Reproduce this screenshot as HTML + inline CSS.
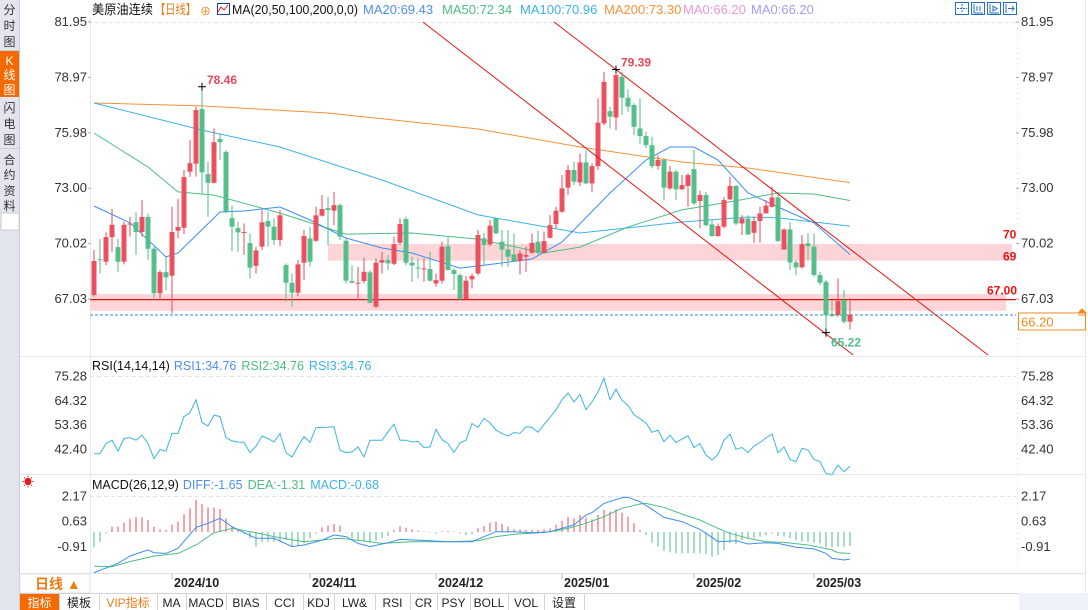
<!DOCTYPE html>
<html><head><meta charset="utf-8">
<style>
html,body{margin:0;padding:0;background:#fff;overflow:hidden}
body{width:1088px;height:610px;position:relative;font-family:"Liberation Sans","Noto Sans CJK SC",sans-serif}
svg{position:absolute;left:0;top:0}
text{font-family:"Liberation Sans","Noto Sans CJK SC",sans-serif}
</style></head>
<body>
<svg id="chart" width="1088" height="610" viewBox="0 0 1088 610" xmlns="http://www.w3.org/2000/svg">
  <g>
    <rect x="0" y="0" width="19" height="610" fill="#e3e5ee"/>
    <line x1="19.5" y1="0" x2="19.5" y2="610" stroke="#c9ccd6"/>
    <g><text font-size="12" fill="#333" text-anchor="middle"><tspan x="9.5" y="14">分</tspan><tspan x="9.5" y="30">时</tspan><tspan x="9.5" y="46">图</tspan></text></g>
    <line x1="0" y1="50.5" x2="19" y2="50.5" stroke="#c9ccd6"/>
    <g><rect x="0" y="51" width="19" height="46" fill="#f56a00"/><text font-size="12" fill="#fff" text-anchor="middle"><tspan x="9.5" y="65">K</tspan><tspan x="9.5" y="79">线</tspan><tspan x="9.5" y="94">图</tspan></text></g>
    <g><text font-size="12" fill="#333" text-anchor="middle"><tspan x="9.5" y="112">闪</tspan><tspan x="9.5" y="128">电</tspan><tspan x="9.5" y="144">图</tspan></text></g>
    <line x1="0" y1="148.5" x2="19" y2="148.5" stroke="#c9ccd6"/>
    <g><text font-size="12" fill="#333" text-anchor="middle"><tspan x="9.5" y="164">合</tspan><tspan x="9.5" y="179">约</tspan><tspan x="9.5" y="195">资</tspan><tspan x="9.5" y="210">料</tspan></text></g>
    <rect x="1" y="213" width="18" height="17" fill="#fff" stroke="#c9ccd6"/>
  </g>
  <line x1="90.5" y1="18" x2="90.5" y2="573" stroke="#e6e8ee"/>
  <line x1="1017.5" y1="18" x2="1017.5" y2="573" stroke="#dfe2e8" stroke-dasharray="1,4"/>
  <line x1="1085.5" y1="0" x2="1085.5" y2="593" stroke="#e3e6ec"/>
  <line x1="20" y1="356.5" x2="1085" y2="356.5" stroke="#e3e6ec"/>
  <line x1="20" y1="474.5" x2="1085" y2="474.5" stroke="#e3e6ec"/>
  <line x1="20" y1="573.5" x2="1085" y2="573.5" stroke="#dde0e6"/>
  <line x1="1016" y1="22.5" x2="90" y2="22.5" stroke="#e2e2e2" stroke-dasharray="4,3"/>
  <line x1="90" y1="376.5" x2="1016" y2="376.5" stroke="#e2e2e2" stroke-dasharray="4,3"/>
  <line x1="90" y1="496.5" x2="1016" y2="496.5" stroke="#e2e2e2" stroke-dasharray="4,3"/>

  <g font-size="13">
    <text x="92" y="14" fill="#111" textLength="61" lengthAdjust="spacingAndGlyphs">美原油连续</text>
    <text x="155" y="14" fill="#f07b16" textLength="41" lengthAdjust="spacingAndGlyphs">【日线】</text>
    <text x="200" y="15" fill="#f07b16" font-size="11">⊕</text>
    <rect x="217.5" y="3.5" width="12" height="11" fill="#fff" stroke="#1a3f9a"/>
    <polyline points="218,12 221,7 224,10 228,5" fill="none" stroke="#d22" stroke-width="1"/>
    <text x="232" y="14" fill="#111" textLength="126" lengthAdjust="spacingAndGlyphs">MA(20,50,100,200,0,0)</text>
    <text x="363" y="14" fill="#4d8ff0">MA20:69.43</text>
    <text x="442" y="14" fill="#4cbe85">MA50:72.34</text>
    <text x="520" y="14" fill="#3bb3e6">MA100:70.96</text>
    <text x="604" y="14" fill="#f5913a">MA200:73.30</text>
    <text x="683" y="14" fill="#e89ad8">MA0:66.20</text>
    <text x="751" y="14" fill="#a99af0">MA0:66.20</text>
  </g>
  <g fill="none" stroke="#1f6fc4">
    <g><rect x="955.5" y="2.5" width="13" height="12"/><path d="M962 4v9M957 8.5h10" stroke-dasharray="2,1"/></g>
    <g><rect x="971.5" y="2.5" width="13" height="12"/><path d="M974 4v9h9M977 6v5M980 6v5"/></g>
    <g><rect x="987.5" y="2.5" width="13" height="12"/><path d="M990 4v9h9M993 6l4 2.5-4 2.5z"/></g>
    <g><rect x="1003.5" y="2.5" width="13" height="12"/><path d="M1006 4v9M1008 8.5h6M1012 6l2 2.5-2 2.5"/></g>
  </g>

  <g id="main-layer"></g>
  <g id="rsi-layer"></g>
  <g id="macd-layer"></g>

  <g>
    <rect x="20" y="574" width="70" height="19" fill="#fff" stroke="#dde0e6"/>
    <text x="35" y="589" font-size="14" font-weight="bold" fill="#f07b16">日线 ▲</text>
    <g id="month-labels"></g>
  </g>
  <g id="tool-bar"></g>
  <rect x="1019" y="593" width="69" height="17" fill="#eef2fa"/>
</svg>
<script>
const opens  = [67.25,69.18,69.04,70.37,69.83,69.04,71.05,71.18,70.64,71.45,69.74,67.34,68.48,68.29,70.71,70.87,73.89,74.32,77.26,73.76,73.29,75.65,74.95,71.39,70.85,70.60,70.05,68.82,69.85,71.23,70.93,70.21,68.86,67.91,67.37,68.99,70.30,70.17,71.52,71.93,71.79,72.09,70.17,68.00,67.87,68.00,68.47,66.62,68.99,69.13,68.93,70.06,71.34,68.99,68.73,68.65,68.65,67.87,68.02,69.88,68.59,68.32,67.03,68.09,68.41,70.30,69.97,71.37,70.12,69.70,69.43,69.08,69.31,69.52,70.12,69.54,70.33,71.07,71.73,73.03,73.98,73.31,74.39,73.26,74.19,76.49,77.15,76.81,79.00,77.87,77.48,76.22,75.81,75.32,74.19,74.52,72.99,73.89,72.94,73.12,74.03,72.31,72.63,71.05,70.42,70.93,72.40,73.12,71.10,71.37,70.60,71.23,71.64,72.00,72.50,69.70,70.78,69.00,68.74,70.03,69.85,68.32,67.96,66.22,66.17,66.98,65.81];
const closes = [69.08,69.13,70.37,71.03,69.04,71.03,71.10,70.64,71.45,69.74,67.34,68.48,68.20,70.64,70.91,73.60,74.35,77.21,73.85,73.29,75.48,75.47,71.73,70.93,70.62,70.64,68.72,69.65,71.16,70.93,70.21,71.54,67.91,67.37,68.90,70.42,69.04,71.54,71.88,71.82,72.09,70.39,68.02,67.91,67.91,68.50,66.83,68.99,69.13,68.95,69.99,71.07,68.99,68.84,68.68,68.68,68.02,68.05,69.85,68.59,68.38,67.03,68.02,68.27,70.48,69.94,70.98,70.57,69.70,69.31,69.08,69.49,69.40,70.06,69.52,70.15,71.01,71.79,72.99,73.98,73.35,74.39,73.26,74.19,76.53,78.73,76.85,79.09,77.87,77.39,76.31,75.81,75.32,74.19,74.52,73.03,73.89,72.94,73.17,73.71,72.18,72.63,71.01,70.42,70.96,72.36,73.12,71.10,71.37,70.51,71.23,71.64,72.06,72.50,70.15,70.78,69.00,68.74,69.99,69.88,68.32,67.91,66.17,66.11,66.92,65.81,66.20];
const highs  = [69.67,70.26,70.62,71.88,70.26,71.20,71.46,71.71,72.36,71.64,69.85,68.59,69.31,72.00,72.41,73.98,75.59,77.39,78.46,74.43,76.22,75.95,75.05,72.07,71.19,71.10,70.57,69.85,71.82,71.73,71.37,71.82,68.95,68.41,69.13,70.75,70.93,72.00,72.63,72.54,72.81,72.18,70.30,68.86,68.77,69.26,68.59,69.22,69.58,69.40,70.39,71.37,71.46,69.31,69.22,69.22,69.58,68.41,70.12,70.39,68.68,68.41,68.27,68.41,70.75,70.60,71.28,71.37,70.75,70.75,70.57,69.67,69.85,70.57,70.71,70.66,71.55,72.00,73.71,74.25,74.43,74.87,75.05,74.34,77.84,79.27,77.39,79.39,79.27,78.32,77.57,77.84,76.04,75.77,74.78,74.61,74.19,73.98,73.71,73.80,75.05,72.86,72.81,71.28,71.10,72.54,73.62,73.17,71.55,71.55,71.46,72.00,72.36,73.08,72.81,70.84,71.19,69.13,70.48,70.57,70.57,68.50,68.05,66.98,68.14,67.51,67.07];
const lows   = [67.16,68.41,68.86,69.58,68.50,68.90,70.39,69.40,70.39,69.13,66.98,66.98,67.51,66.26,70.30,70.53,73.62,73.62,72.72,71.46,73.26,74.52,71.64,69.61,69.58,69.40,68.14,68.41,69.67,69.85,69.94,69.88,66.89,66.62,67.19,68.05,68.77,70.12,71.47,69.94,71.01,70.21,67.87,67.87,66.98,67.87,66.80,66.53,68.41,68.59,68.86,69.94,68.86,67.96,68.14,67.96,67.96,67.69,67.87,68.59,67.51,66.98,66.98,67.60,68.32,68.86,69.88,70.51,68.77,68.77,69.04,68.36,68.50,69.49,69.43,69.49,70.30,70.84,71.68,72.63,73.17,73.12,73.22,72.81,73.98,76.40,76.22,76.13,76.94,77.12,75.86,75.41,75.14,74.07,74.00,72.36,72.90,72.36,72.90,72.00,72.09,70.84,70.93,70.39,70.39,70.84,72.36,71.01,70.48,70.48,70.06,70.06,71.64,71.96,70.12,69.67,68.59,68.32,68.68,69.13,68.23,67.78,65.22,66.08,66.08,65.72,65.40];

const priceTicks = [81.95,78.97,75.98,73.00,70.02,67.03];
const monthLabels = ["2024/10","2024/11","2024/12","2025/01","2025/02","2025/03"];
const monthStartIdx = [13,36,57,78,100,120];

const ma200Idx = [0,18,39,64,81,98,109,126];
const ma200Val = [77.59,77.43,77.05,76.19,75.22,74.41,74.09,73.30];
const ma100Idx = [0,18,31,48,64,81,98,109,114,126];
const ma100Val = [77.59,76.13,75.22,73.44,71.56,70.59,71.18,71.45,71.40,70.96];
const ma50Idx = [0,9,14,20,31,42,53,64,75,81,89,98,106,114,120,126];
const ma50Val = [75.97,74.14,72.80,72.63,71.66,70.53,70.59,70.26,69.51,69.83,70.91,71.83,72.26,72.74,72.69,72.34];
const ma20Idx = [0,6,12,14,21,25,31,36,42,48,53,61,64,73,78,86,92,96,100,104,109,114,120,126];
const ma20Val = [72.04,71.13,69.30,69.51,71.72,71.77,71.99,71.29,70.32,69.78,69.51,68.70,68.81,69.19,70.10,72.74,74.52,75.22,75.22,74.52,72.74,71.99,71.13,69.43];

const rsiTicks = [75.28,64.32,53.36,42.40];
const rsiVals = [40.4,40.4,45.0,46.5,41.6,47.3,47.7,46.5,48.8,45.0,38.2,42.3,41.5,49.6,49.6,57.2,59.0,64.8,54.6,52.9,57.9,57.2,47.7,46.2,45.7,45.6,40.9,43.8,48.4,47.3,45.7,49.6,40.9,38.9,43.8,48.1,45.6,52.2,52.3,52.4,52.6,42.0,40.9,41.2,43.5,38.9,46.5,46.5,46.5,50.3,53.8,46.5,46.5,45.7,46.0,43.2,43.5,51.4,46.8,45.0,40.9,45.3,46.5,54.1,52.3,56.4,54.4,51.1,49.6,48.4,50.0,49.6,52.6,52.3,50.1,53.6,56.9,60.3,64.9,67.9,63.8,67.2,60.3,63.8,68.4,74.5,64.9,69.6,64.6,62.3,58.1,56.2,54.3,50.1,51.1,45.9,48.8,45.5,47.0,48.5,43.2,45.0,39.8,37.5,40.1,46.5,49.3,42.4,43.2,40.9,43.9,45.5,47.5,49.3,40.9,43.5,37.8,36.8,42.9,42.1,37.8,36.8,31.4,31.0,35.2,32.2,34.76];

const macdTicks = [2.17,0.63,-0.91];
const macdHist = [-0.93,-0.59,-0.08,0.32,0.32,0.57,0.79,0.93,0.89,0.73,0.32,0.16,0.12,0.43,0.63,1.09,1.44,1.95,1.70,1.50,1.48,1.40,0.83,0.32,0.16,-0.12,-0.38,-0.89,-0.59,-0.59,-0.59,-0.59,-0.49,-0.89,-0.85,-0.69,-0.38,-0.08,0.28,0.39,0.49,0.39,-0.04,-0.38,-0.49,-0.59,-0.65,-0.53,-0.38,-0.24,0.12,0.36,0.26,0.16,0.08,0.02,-0.04,-0.08,0.06,0.06,0.02,-0.08,-0.18,-0.14,0.22,0.36,0.57,0.63,0.49,0.32,0.16,0.16,0.12,0.12,0.12,0.16,0.22,0.43,0.67,0.93,0.83,1.03,0.87,0.77,1.03,1.34,1.24,1.38,1.18,0.93,0.53,0.12,-0.18,-0.65,-0.89,-1.13,-1.24,-1.30,-1.30,-1.30,-1.30,-1.30,-1.34,-1.50,-1.40,-1.09,-0.65,-0.75,-0.49,-0.38,-0.38,-0.28,-0.18,-0.08,-0.24,-0.28,-0.38,-0.49,-0.59,-0.59,-0.65,-0.69,-0.93,-0.93,-0.89,-0.89,-0.85];
const diffIdx = [0,4,6,9,10,12,14,17,19,21,23,27,30,33,35,38,40,42,44,46,49,51,56,59,63,67,70,73,76,80,82,83,85,88,89,91,93,95,98,101,103,104,107,109,112,114,117,120,122,123,125,126];
const diffVal = [-2.47,-1.90,-1.46,-1.09,-1.26,-1.30,-0.99,0.28,0.53,0.83,0.32,-0.38,-0.38,-0.89,-0.79,-0.49,-0.18,-0.28,-0.69,-0.89,-0.65,-0.45,-0.53,-0.59,-0.59,0.02,0.02,-0.04,0.02,0.43,1.03,1.18,1.74,2.09,2.11,1.84,1.38,0.89,0.63,0.16,-0.32,-0.59,-0.53,-0.73,-0.65,-0.69,-0.93,-1.03,-1.30,-1.60,-1.70,-1.65];
const deaIdx = [0,3,6,10,14,17,20,23,27,30,35,39,41,45,48,53,59,64,67,70,73,76,79,82,85,88,91,92,95,98,101,104,106,109,112,115,119,123,124,126];
const deaVal = [-2.07,-2.11,-1.80,-1.46,-1.30,-0.79,-0.04,0.22,-0.04,-0.28,-0.59,-0.45,-0.38,-0.55,-0.69,-0.59,-0.59,-0.53,-0.28,-0.14,-0.08,0.02,0.22,0.53,0.93,1.44,1.70,1.74,1.50,1.09,0.73,0.22,-0.08,-0.38,-0.59,-0.63,-0.79,-1.09,-1.26,-1.31];

const zoneLow = [66.40,69.10];
const zoneHigh = [67.30,70.00];
const keyLevel = 67.00;
const lastPrice = 66.20;
const channelA = [[64.3,79.58],[122.2,65.10]];
const channelB = [[87,79.39],[149,64.02]];

const X0 = 94, STEP = 6;
const xs = i => X0 + i * STEP;
const yP = p => 22 + (81.95 - p) * 18.57;
const yR = v => 376.7 + (75.28 - v) * 2.208;
const yM = m => 532 - m * 16.45;
const NS = "http://www.w3.org/2000/svg";
function mk(tag, attrs, parent) {
  const e = document.createElementNS(NS, tag);
  for (const k in attrs) e.setAttribute(k, attrs[k]);
  parent.appendChild(e);
  return e;
}
const RED = "#ec4a5a", GREEN = "#4fbd87";
const main = document.getElementById("main-layer");
const rsiL = document.getElementById("rsi-layer");
const macdL = document.getElementById("macd-layer");

const zoneLeft = [90, 328], zoneRight = [1006, 1012];
for (let z = 0; z < 2; z++) {
  const r = mk("rect", {x: zoneLeft[z], y: yP(zoneHigh[z]), width: zoneRight[z] - zoneLeft[z], height: yP(zoneLow[z]) - yP(zoneHigh[z]), fill: "#fdd5d8"}, main);
  
  
}
const kl = mk("line", {x1: 90, x2: 1016, y1: yP(keyLevel), y2: yP(keyLevel), stroke: "#e01010", "stroke-width": 1.3}, main);


const lp = mk("line", {x1: 90, x2: 1016, y1: yP(lastPrice) + 0.5, y2: yP(lastPrice) + 0.5, stroke: "#2a84f0", "stroke-dasharray": "3,2"}, main);



priceTicks.forEach(p => {
  const y = yP(p);
  const t1 = mk("text", {x: 87, y: y + 4, "text-anchor": "end", "font-size": 13, fill: "#333"}, main);
  t1.textContent = p.toFixed(2);
  
  
  const t2 = mk("text", {x: 1021, y: y + 4, "font-size": 13, fill: "#333"}, main);
  t2.textContent = p.toFixed(2);
  
  
  mk("line", {x1: 88, x2: 91, y1: y, y2: y, stroke: "#aaa"}, main);
  mk("line", {x1: 1016, x2: 1019, y1: y, y2: y, stroke: "#aaa"}, main);
});

function poly(idx, val, yf, color, name, parent, w) {
  const pts = idx.map((i, k) => xs(i) + "," + yf(val[k]).toFixed(1)).join(" ");
  const pl = mk("polyline", {points: pts, fill: "none", stroke: color, "stroke-width": w || 1}, parent);
  
  
}
poly(ma200Idx, ma200Val, yP, "#f5913a", "ma200-line", main);
poly(ma100Idx, ma100Val, yP, "#3bb3e6", "ma100-line", main);
poly(ma50Idx, ma50Val, yP, "#4cbe85", "ma50-line", main);
poly(ma20Idx, ma20Val, yP, "#3d8ef0", "ma20-line", main);

for (let i = 0; i < opens.length; i++) {
  const up = closes[i] >= opens[i];
  const c = up ? RED : GREEN;
  const x = xs(i);
  const g = mk("g", {}, main);
  
  
  mk("line", {x1: x, x2: x, y1: yP(highs[i]), y2: yP(lows[i]), stroke: c, "stroke-width": 1}, g);
  const top = yP(Math.max(opens[i], closes[i])), bot = yP(Math.min(opens[i], closes[i]));
  mk("rect", {x: x - 2.5, y: top, width: 5, height: Math.max(1, bot - top), fill: c, "fill-opacity": 0.95}, g);
}

function chan(a, name) {
  const x1 = xs(a[0][0]), y1 = yP(a[0][1]), x2 = xs(a[1][0]), y2 = yP(a[1][1]);
  const s = (y2 - y1) / (x2 - x1);
  const yT = 22, yB = 355;
  const l = mk("line", {x1: x1 + (yT - y1) / s, y1: yT, x2: x1 + (yB - y1) / s, y2: yB, stroke: "#e01818", "stroke-width": 1}, main);
  
  
}
chan(channelA, "trend-channel-lower");
chan(channelB, "trend-channel-upper");

function mark(i, p, label, color, dy, name) {
  const x = xs(i), y = yP(p);
  mk("path", {d: `M${x-4} ${y}h8M${x} ${y-4}v8`, stroke: "#000", "stroke-width": 1}, main);
  const t = mk("text", {x: x + 5, y: y + dy, "font-size": 12, "font-weight": "bold", fill: color}, main);
  t.textContent = label;
  
  
}
let hiIdx = 0, loIdx = 0;
highs.forEach((h, i) => { if (i < 40 && h > highs[hiIdx]) hiIdx = i; });
mark(hiIdx, highs[hiIdx], highs[hiIdx].toFixed(2), "#e8485a", -3, "local-high-label");
let hi2 = 40; highs.forEach((h, i) => { if (i >= 40 && h > highs[hi2]) hi2 = i; });
mark(hi2, highs[hi2], highs[hi2].toFixed(2), "#e8485a", -3, "period-high-label");
lows.forEach((l, i) => { if (l < lows[loIdx]) loIdx = i; });
mark(loIdx, lows[loIdx], lows[loIdx].toFixed(2), "#4fbd87", 14, "period-low-label");

[["70", 1003, yP(70.02) - 5], ["69", 1003, yP(69) - 2], ["67.00", 987, yP(67.0) - 5]].forEach(a => {
  const t = mk("text", {x: a[1], y: a[2], "font-size": 12, "font-weight": "bold", fill: "#f01010"}, main);
  t.textContent = a[0];
  
  
});
const bx = mk("rect", {x: 1018.5, y: yP(lastPrice) - 1.5, width: 67, height: 17, fill: "#fff", stroke: "#f08a1e"}, main);


const bt = mk("text", {x: 1021, y: yP(lastPrice) + 12, "font-size": 13, fill: "#f08a1e"}, main);
bt.textContent = lastPrice.toFixed(2);


mk("path", {d: "M1078 313l4-4 4 4z M1078 315h8", fill: "#f08a1e", stroke: "#f08a1e"}, main);

const rt = mk("text", {x: 92, y: 370, "font-size": 12.5}, rsiL);
rt.innerHTML = '<tspan fill="#111">RSI(14,14,14)</tspan><tspan fill="#4d8ff0" dx="4">RSI1:34.76</tspan><tspan fill="#4cbe85" dx="5">RSI2:34.76</tspan><tspan fill="#3bb3e6" dx="5">RSI3:34.76</tspan>';


rsiTicks.forEach(v => {
  const t1 = mk("text", {x: 87, y: yR(v) + 4, "text-anchor": "end", "font-size": 13, fill: "#333"}, rsiL);
  t1.textContent = v.toFixed(2);
  
  
  const t2 = mk("text", {x: 1021, y: yR(v) + 4, "font-size": 13, fill: "#333"}, rsiL);
  t2.textContent = v.toFixed(2);
  
  
});
poly(rsiVals.map((v, i) => i), rsiVals, yR, "#3bb3e6", "rsi-line", rsiL);

const mt = mk("text", {x: 92, y: 489, "font-size": 12.5}, macdL);
mt.innerHTML = '<tspan fill="#111">MACD(26,12,9)</tspan><tspan fill="#4d8ff0" dx="4">DIFF:-1.65</tspan><tspan fill="#4cbe85" dx="5">DEA:-1.31</tspan><tspan fill="#3bb3e6" dx="5">MACD:-0.68</tspan>';


const sun = mk("text", {x: 22, y: 486, "font-size": 12, fill: "#e02020"}, macdL);
sun.textContent = "☀";


macdTicks.forEach(v => {
  const t1 = mk("text", {x: 87, y: yM(v) + 4, "text-anchor": "end", "font-size": 13, fill: "#333"}, macdL);
  t1.textContent = v.toFixed(2);
  
  
  const t2 = mk("text", {x: 1021, y: yM(v) + 4, "font-size": 13, fill: "#333"}, macdL);
  t2.textContent = v.toFixed(2);
  
  
});
macdHist.forEach((m, i) => {
  const b = mk("line", {x1: xs(i), x2: xs(i), y1: yM(0), y2: yM(m), stroke: m >= 0 ? RED : GREEN, "stroke-width": 1}, macdL);
  
  
});
poly(deaIdx, deaVal, yM, "#4cbe85", "dea-line", macdL);
poly(diffIdx, diffVal, yM, "#3d8ef0", "diff-line", macdL);

const ml = document.getElementById("month-labels");
monthLabels.forEach((m, k) => {
  const x = xs(monthStartIdx[k]);
  mk("line", {x1: x, x2: x, y1: 574, y2: 579, stroke: "#bbb"}, ml);
  const t = mk("text", {x: x + 2, y: 587, "font-size": 12.5, "font-weight": "bold", fill: "#222"}, ml);
  t.textContent = m;
  
  
});

const tb = document.getElementById("tool-bar");
const tools = ["指标","模板","VIP指标","MA","MACD","BIAS","CCI","KDJ","LW&","RSI","CR","PSY","BOLL","VOL","设置"];
const edges = [20,59,99,157,186,226,266,303,334,375,410,437,470,508,544,584];
mk("rect", {x: 20, y: 593, width: 999, height: 17, fill: "#fff"}, tb);
mk("line", {x1: 20, x2: 1019, y1: 593.5, y2: 593.5, stroke: "#cfd3db"}, tb);
tools.forEach((name, k) => {
  const x0 = edges[k], x1 = edges[k + 1];
  const g = mk("g", {}, tb);
  
  
  if (k === 0) mk("rect", {x: x0, y: 594, width: x1 - x0, height: 16, fill: "#f56a00"}, g);
  mk("line", {x1: x1 + 0.5, x2: x1 + 0.5, y1: 594, y2: 610, stroke: "#cfd3db"}, g);
  const t = mk("text", {x: (x0 + x1) / 2, y: 607, "text-anchor": "middle", "font-size": 12, fill: k === 0 ? "#fff" : (k === 2 ? "#f07b16" : "#222"), "font-family": "Liberation Mono, Noto Sans CJK SC, monospace"}, g);
  t.textContent = name;
});
</script>
</body></html>
